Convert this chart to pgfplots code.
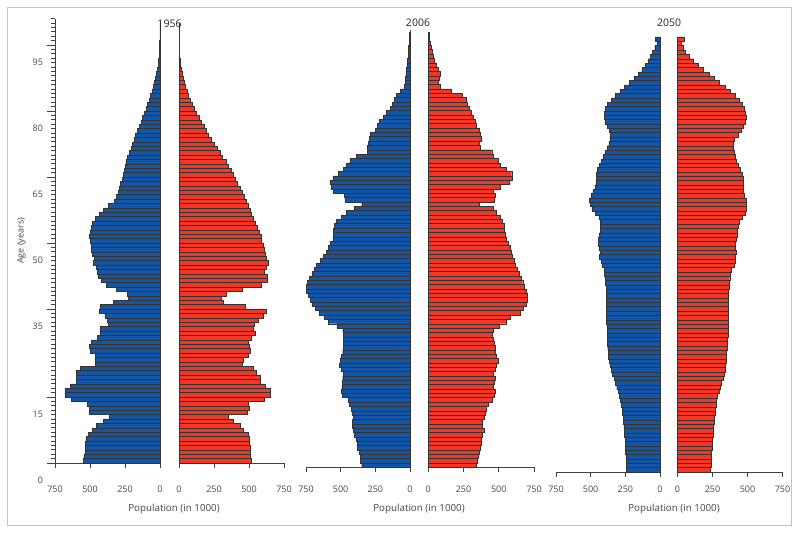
\documentclass[border=0pt]{standalone}
\usepackage{pgfplots}
\pgfplotsset{compat=1.18}
\usepackage{pgfplotstable}
\usepackage{fontspec}
\setmainfont{Open Sans}
\definecolor{mblue}{RGB}{20,85,165}
\definecolor{fred}{RGB}{240,55,40}
\definecolor{framec}{RGB}{165,210,195}
\definecolor{txt}{RGB}{70,70,70}

\pgfplotstableread{
age m f
0 548 519
1 543 512
2 536 507
3 533 507
4 531 505
5 529 502
6 512 495
7 481 460
8 452 436
9 405 388
10 362 352
11 505 488
12 505 500
13 519 495
14 631 607
15 679 655
16 679 650
17 638 614
18 600 583
19 600 579
20 600 555
21 571 531
22 464 455
23 464 460
24 464 495
25 495 507
26 505 502
27 488 495
28 448 519
29 429 543
30 429 531
31 369 536
32 376 567
33 393 602
34 433 621
35 429 471
36 333 317
37 226 305
38 233 336
39 310 455
40 381 590
41 417 630
42 440 630
43 448 610
44 452 625
45 476 635
46 471 626
47 481 619
48 488 610
49 493 602
50 500 590
51 505 586
52 500 574
53 493 560
54 481 545
55 464 531
56 433 519
57 405 507
58 369 495
59 326 483
60 310 464
61 300 450
62 290 436
63 281 417
64 271 402
65 262 388
66 255 371
67 248 355
68 243 336
69 233 312
70 219 295
71 207 276
72 198 255
73 186 231
74 174 212
75 162 193
76 148 179
77 136 160
78 124 143
79 112 126
80 100 112
81 88 95
82 76 81
83 67 69
84 57 60
85 48 48
86 38 38
87 31 29
88 24 21
89 19 14
90 14 10
91 10 7
92 7 5
93 5 3.5
94 3 2.5
95 2 2
96 1.5 1.5
97 1 1
98 0.5 0.6
99 0.3 0.4
}\dataA

\pgfplotstableread{
age m f
0 348 343
1 356 348
2 360 355
3 365 362
4 378 367
5 384 374
6 389 379
7 400 386
8 410 395
9 415 381
10 418 386
11 410 395
12 420 407
13 425 414
14 435 426
15 445 457
16 490 469
17 497 476
18 492 462
19 490 466
20 485 473
21 480 462
22 497 473
23 507 485
24 502 497
25 493 485
26 485 473
27 483 473
28 478 469
29 480 462
30 480 457
31 485 462
32 528 504
33 588 556
34 620 580
35 658 651
36 685 675
37 708 694
38 718 703
39 735 703
40 745 698
41 748 679
42 740 670
43 725 660
44 705 645
45 690 630
46 675 618
47 649 611
48 625 596
49 601 587
50 589 580
51 577 568
52 557 556
53 553 544
54 553 537
55 548 537
56 529 525
57 493 509
58 457 485
59 404 462
60 348 362
61 469 469
62 473 473
63 553 462
64 565 509
65 577 575
66 557 599
67 517 592
68 481 556
69 457 509
70 433 497
71 389 462
72 308 450
73 305 367
74 300 362
75 293 379
76 288 367
77 252 362
78 233 343
79 221 334
80 192 320
81 173 303
82 144 289
83 125 279
84 115 272
85 96 244
86 72 166
87 43 88
88 36 73
89 31 78
90 29 88
91 24 71
92 22 59
93 19 43
94 14 36
95 12 26
96 10 19
97 7 12
98 5 7
99 4 5
}\dataB

\pgfplotstableread{
age m f
0 240 237
1 242 238
2 244 240
3 246 242
4 248 244
5 249 246
6 250 248
7 252 250
8 255 252
9 257 255
10 260 257
11 263 260
12 266 263
13 269 266
14 273 270
15 278 274
16 285 280
17 293 287
18 302 295
19 312 305
20 322 315
21 333 325
22 342 333
23 350 339
24 358 343
25 366 346
26 371 349
27 375 351
28 377 354
29 378 357
30 380 358
31 381 359
32 382 360
33 383 361
34 385 361
35 386 362
36 387 362
37 387 363
38 387 363
39 387 363
40 387 364
41 388 364
42 389 366
43 392 368
44 396 373
45 400 380
46 405 386
47 419 404
48 426 409
49 436 414
50 433 416
51 440 414
52 445 411
53 445 416
54 438 426
55 431 428
56 428 433
57 431 443
58 440 460
59 467 484
60 491 494
61 503 494
62 508 489
63 498 479
64 484 469
65 469 469
66 462 472
67 460 469
68 457 460
69 450 448
70 436 433
71 421 421
72 409 409
73 397 402
74 382 399
75 368 397
76 361 402
77 360 431
78 365 455
79 382 469
80 397 486
81 402 491
82 402 486
83 392 474
84 378 462
85 352 440
86 325 410
87 290 375
88 255 340
89 220 300
90 188 262
91 158 225
92 130 185
93 108 150
94 88 115
95 70 85
96 53 58
97 38 38
98 22 24
99 36 45
}\dataC

\pgfplotsset{
  half/.style={
    scale only axis,
    width=105pt,
    ymin=0,
    axis x line*=bottom,
    axis y line=none,
    axis line style={-, draw=black!75, line width=0.7pt},
    tick align=outside,
    major tick length=5pt,
    xtick style={draw=black!75, line width=0.7pt},
    ytick=\empty,
    /pgf/number format/assume math mode=true,
    tick label style={font=\fontsize{9}{10}\selectfont, text=txt},
    xticklabel style={anchor=base},
    clip=false,
  },
  lefthalf/.style={half, xmin=-750, xmax=0,
    xtick={-750,-500,-250,0}, xticklabels={750,500,250,0}},
  righthalf/.style={half, xmin=0, xmax=750,
    xtick={0,250,500,750}, xticklabels={0,250,500,750}},
  mbar/.style={xbar, bar shift=0pt, bar width=1, fill=mblue, draw=black!80, line width=0.45pt},
  fbar/.style={xbar, bar shift=0pt, bar width=1, fill=fred, draw=black!80, line width=0.45pt},
  zline/.style={draw=gray!80, line width=0.9pt, no marks},
}

\begin{document}
\begin{tikzpicture}
\useasboundingbox (0pt,0pt) rectangle (800pt,534pt);
\draw[framec, line width=1.3pt] (7.5pt,8.3pt) rectangle (791.7pt,526.7pt);

% ---------- 1956 ----------
\begin{axis}[lefthalf, at={(55pt,71pt)}, anchor=south west, height=444.4pt, ymax=101,
  xticklabel style={yshift=-25pt}]
\addplot[zline] coordinates {(0,0) (0,100)};
\addplot[mbar] table[x expr=-\thisrow{m}, y expr=\thisrow{age}+0.5] {\dataA};
\end{axis}
\begin{axis}[righthalf, at={(179pt,71pt)}, anchor=south west, height=444.4pt, ymax=101,
  xticklabel style={yshift=-25pt}]
\addplot[zline] coordinates {(0,0) (0,100)};
\addplot[fbar] table[x expr=\thisrow{f}, y expr=\thisrow{age}+0.5] {\dataA};
\end{axis}
% age axis
\begin{axis}[scale only axis, at={(55pt,71pt)}, anchor=south west, width=105pt, height=444.4pt,
  xmin=-750, xmax=0, ymin=0, ymax=101,
  axis y line*=left, axis x line=none,
  axis line style={-, draw=black!75, line width=0.7pt},
  tick align=outside, major tick length=7.5pt, minor tick length=4.3pt,
  ytick={0,15,35,50,65,80,95},
  minor ytick={0,1,...,101},
  ytick style={draw=black!75, line width=0.6pt},
  xtick=\empty,
  /pgf/number format/assume math mode=true,
  tick label style={font=\fontsize{9}{10}\selectfont, text=txt},
  yticklabel style={yshift=-17pt, xshift=-1pt},
  ylabel={Age (years)},
  ylabel style={font=\fontsize{9}{10}\selectfont, text=txt},
]
\end{axis}

% ---------- 2006 ----------
\begin{axis}[lefthalf, at={(306pt,66.7pt)}, anchor=south west, width=104pt, height=435pt, ymax=100,
  xticklabel style={yshift=-20.7pt}]
\addplot[zline, draw=black!70] coordinates {(0,0) (0,100.5)};
\addplot[mbar] table[x expr=-\thisrow{m}, y expr=\thisrow{age}+0.5] {\dataB};
\end{axis}
\begin{axis}[righthalf, at={(428.3pt,66.7pt)}, anchor=south west, width=105.7pt, height=435pt, ymax=100,
  xticklabel style={yshift=-20.7pt}]
\addplot[zline, draw=black!70] coordinates {(0,0) (0,100)};
\addplot[fbar] table[x expr=\thisrow{f}, y expr=\thisrow{age}+0.5] {\dataB};
\end{axis}

% ---------- 2050 ----------
\begin{axis}[lefthalf, at={(556pt,62pt)}, anchor=south west, width=104pt, height=435pt, ymax=100,
  xticklabel style={yshift=-16pt}]
\addplot[mbar] table[x expr=-\thisrow{m}, y expr=\thisrow{age}+0.5] {\dataC};
\end{axis}
\begin{axis}[righthalf, at={(677.5pt,62pt)}, anchor=south west, width=105pt, height=435pt, ymax=100,
  xticklabel style={yshift=-16pt}]
\addplot[fbar] table[x expr=\thisrow{f}, y expr=\thisrow{age}+0.5] {\dataC};
\end{axis}

% titles and labels
\begin{scope}[every node/.style={font=\fontsize{10.5}{12}\selectfont, text=black!85}]
\node at (169.5pt,510.5pt) {1956};
\node at (418pt,511pt) {2006};
\node at (669pt,511pt) {2050};
\end{scope}
\begin{scope}[every node/.style={font=\fontsize{9.8}{11}\selectfont, text=txt}]
\node at (174pt,25pt) {Population (in 1000)};
\node at (419pt,25pt) {Population (in 1000)};
\node at (674pt,25pt) {Population (in 1000)};
\end{scope}
\end{tikzpicture}
\end{document}
